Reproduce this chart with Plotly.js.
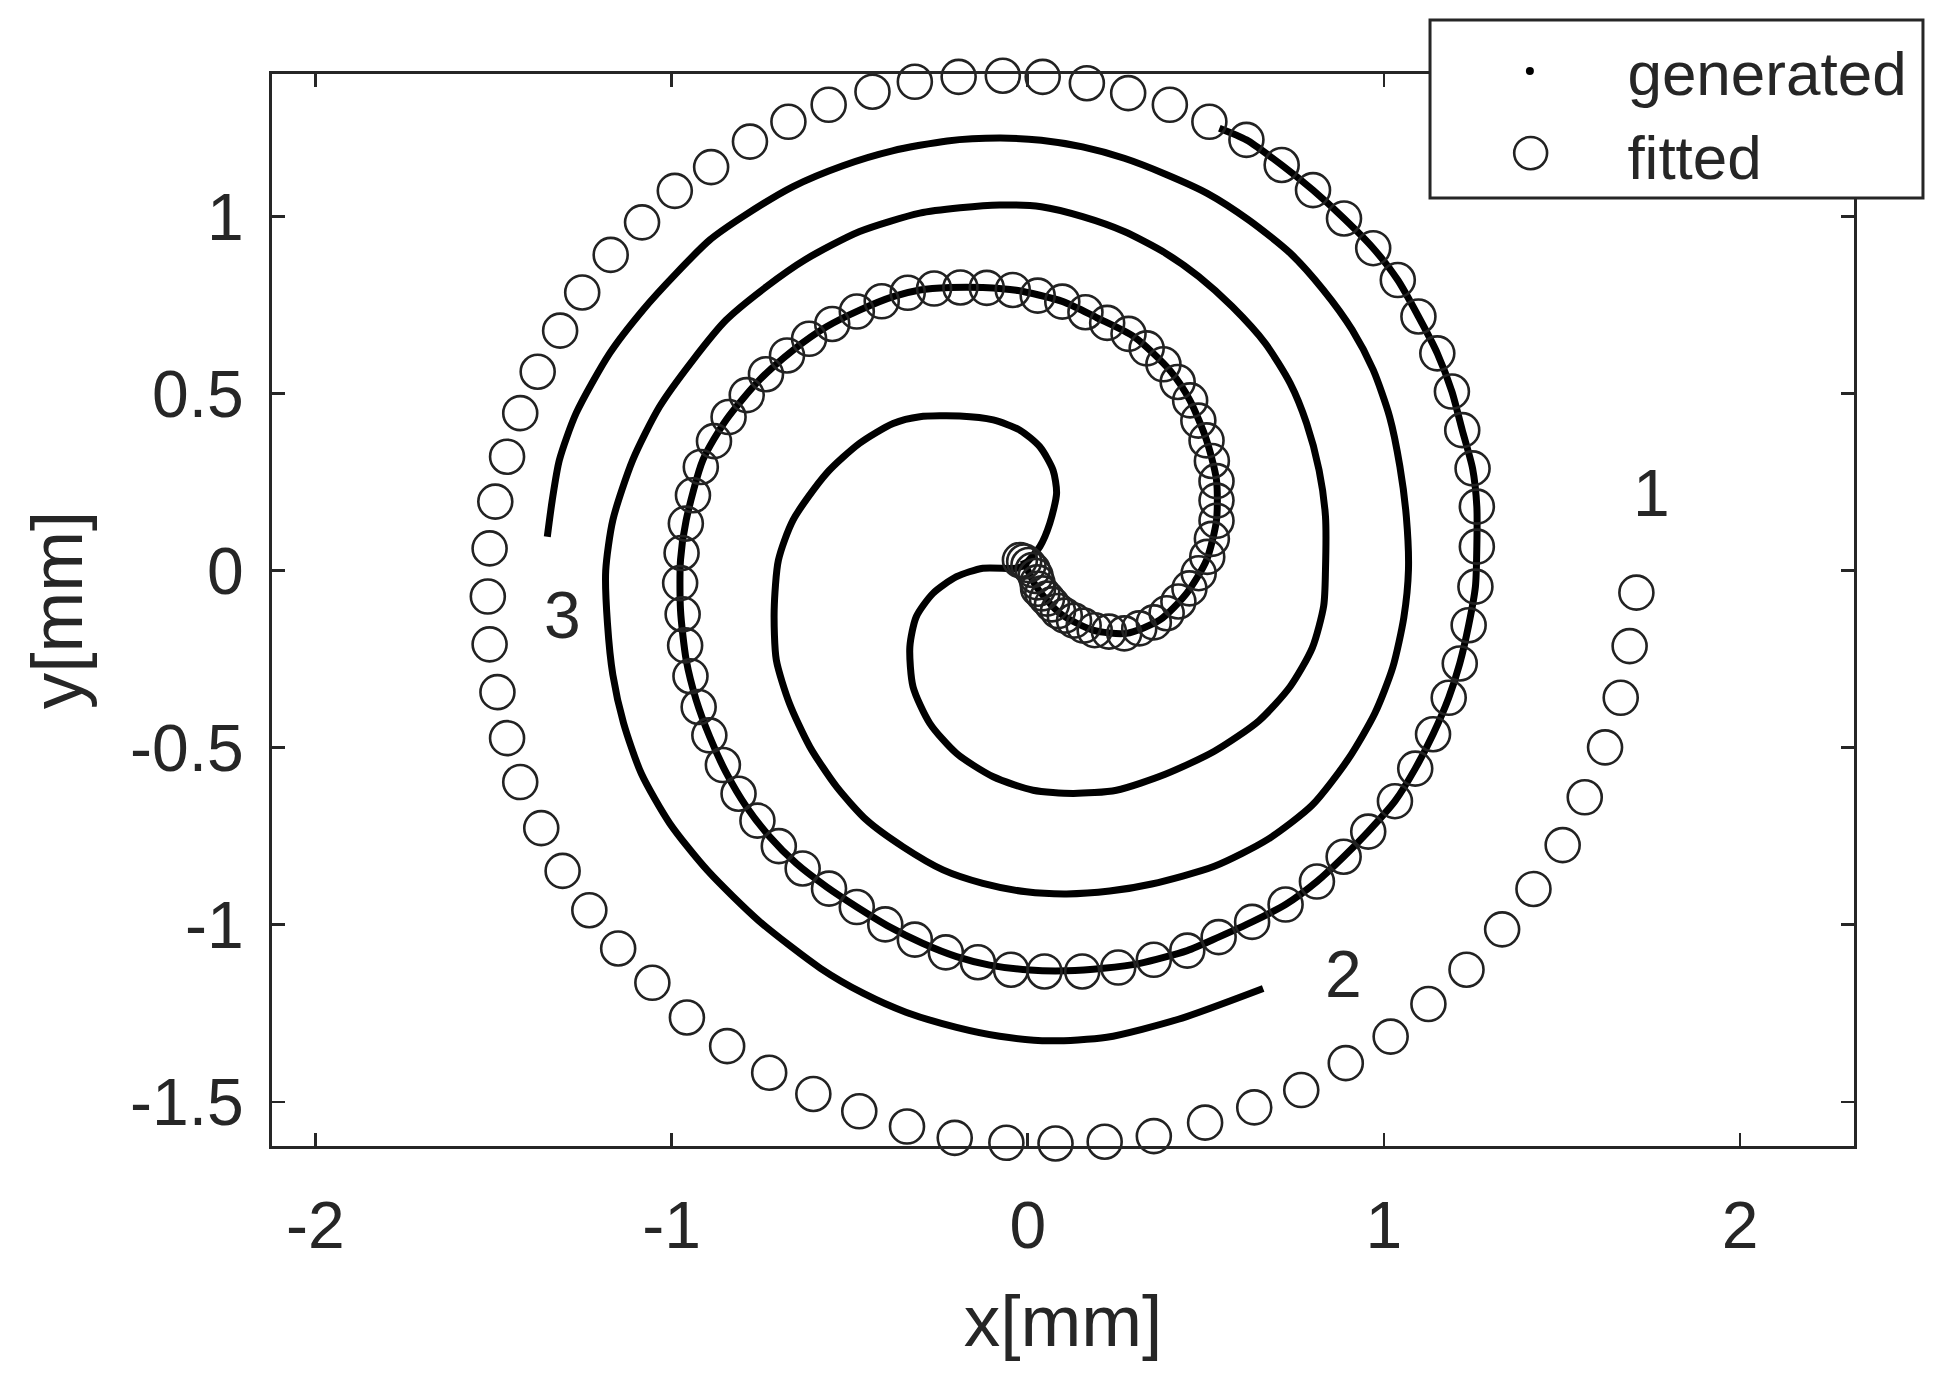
<!DOCTYPE html>
<html>
<head>
<meta charset="utf-8">
<script src="https://cdn.plot.ly/plotly-3.0.1.min.js"></script>
<style>
  html, body { margin: 0; padding: 0; background: #ffffff; }
  #chart { width: 1942px; height: 1390px; }
</style>
</head>
<body>
<div id="chart"></div>
<script>
// ---------------- data ----------------
// generated spiral arm 1 (from centre outwards)
const arm1X = [-0.013, 0.024, 0.090, 0.183, 0.277, 0.371, 0.446, 0.502, 0.530, 0.530, 0.502, 0.455, 0.400, 0.300, 0.193, 0.099, -0.032, -0.126, -0.219, -0.303, -0.378, -0.472, -0.565, -0.659, -0.753, -0.847, -0.912, -0.959, -0.975, -0.975, -0.959, -0.931, -0.893, -0.846, -0.790, -0.725, -0.650, -0.565, -0.481, -0.388, -0.294, -0.200, -0.107, 0.006, 0.109, 0.212, 0.315, 0.448, 0.536, 0.630, 0.724, 0.812, 0.887, 0.956, 1.031, 1.088, 1.138, 1.182, 1.213, 1.238, 1.257, 1.261, 1.261, 1.249, 1.220, 1.191, 1.150, 1.097, 1.039, 0.970, 0.888, 0.801, 0.713, 0.614, 0.538];
const arm1Y = [0.030, -0.045, -0.120, -0.168, -0.177, -0.139, -0.064, 0.030, 0.143, 0.256, 0.369, 0.482, 0.565, 0.660, 0.715, 0.760, 0.792, 0.800, 0.800, 0.793, 0.774, 0.736, 0.689, 0.623, 0.539, 0.426, 0.313, 0.143, 0.030, -0.111, -0.252, -0.365, -0.469, -0.572, -0.667, -0.751, -0.827, -0.893, -0.949, -1.006, -1.053, -1.090, -1.114, -1.128, -1.130, -1.123, -1.109, -1.073, -1.035, -0.992, -0.943, -0.878, -0.808, -0.737, -0.651, -0.559, -0.462, -0.359, -0.262, -0.154, -0.045, 0.068, 0.181, 0.289, 0.397, 0.506, 0.614, 0.718, 0.821, 0.911, 0.995, 1.075, 1.146, 1.217, 1.250];

// generated spiral arm 2 (from centre outwards, ends near label "2")
const arm2X = [-0.010, -0.032, -0.126, -0.200, -0.266, -0.313, -0.331, -0.322, -0.275, -0.200, -0.097, 0.015, 0.127, 0.249, 0.386, 0.524, 0.649, 0.737, 0.799, 0.831, 0.836, 0.836, 0.818, 0.783, 0.737, 0.667, 0.574, 0.480, 0.387, 0.271, 0.154, 0.038, -0.079, -0.190, -0.303, -0.472, -0.624, -0.734, -0.847, -0.940, -1.034, -1.109, -1.165, -1.185, -1.180, -1.165, -1.135, -1.085, -1.005, -0.900, -0.755, -0.582, -0.461, -0.342, -0.200, -0.079, 0.062, 0.222, 0.423, 0.661];
const arm2Y = [0.015, 0.007, 0.007, -0.017, -0.064, -0.130, -0.215, -0.328, -0.431, -0.516, -0.582, -0.620, -0.629, -0.620, -0.575, -0.510, -0.424, -0.327, -0.218, -0.099, 0.002, 0.153, 0.284, 0.416, 0.529, 0.642, 0.746, 0.831, 0.897, 0.958, 1.000, 1.028, 1.033, 1.025, 1.010, 0.958, 0.879, 0.802, 0.708, 0.595, 0.463, 0.313, 0.143, 0.000, -0.150, -0.294, -0.430, -0.573, -0.714, -0.846, -0.989, -1.123, -1.194, -1.247, -1.290, -1.315, -1.328, -1.318, -1.267, -1.180];

// generated spiral arm 3 (from centre outwards, ends near label "3")
const arm3X = [-0.010, 0.034, 0.062, 0.081, 0.071, 0.034, -0.022, -0.097, -0.191, -0.303, -0.378, -0.472, -0.565, -0.659, -0.700, -0.712, -0.706, -0.669, -0.612, -0.537, -0.453, -0.350, -0.238, -0.126, -0.004, 0.109, 0.230, 0.348, 0.524, 0.674, 0.799, 0.900, 0.975, 1.025, 1.056, 1.069, 1.063, 1.045, 1.016, 0.970, 0.911, 0.830, 0.737, 0.620, 0.504, 0.387, 0.271, 0.154, 0.038, -0.079, -0.226, -0.380, -0.519, -0.659, -0.800, -0.893, -0.987, -1.081, -1.174, -1.268, -1.315, -1.335, -1.349];
const arm3Y = [0.015, 0.068, 0.134, 0.219, 0.284, 0.350, 0.397, 0.426, 0.437, 0.435, 0.416, 0.360, 0.275, 0.143, 0.030, -0.111, -0.252, -0.375, -0.497, -0.610, -0.704, -0.780, -0.845, -0.883, -0.907, -0.913, -0.905, -0.885, -0.835, -0.759, -0.662, -0.532, -0.402, -0.273, -0.132, 0.002, 0.153, 0.294, 0.435, 0.567, 0.680, 0.793, 0.897, 0.991, 1.066, 1.120, 1.165, 1.197, 1.216, 1.222, 1.214, 1.186, 1.144, 1.085, 1.000, 0.934, 0.840, 0.736, 0.614, 0.445, 0.313, 0.200, 0.096];

// fitted points (open circles), from centre outwards
const fitX = [-0.022, -0.010, 0.002, 0.014, 0.022, 0.027, 0.029, 0.041, 0.054, 0.068, 0.085, 0.104, 0.130, 0.157, 0.188, 0.228, 0.271, 0.313, 0.354, 0.390, 0.423, 0.454, 0.480, 0.504, 0.517, 0.530, 0.530, 0.530, 0.517, 0.502, 0.479, 0.456, 0.421, 0.381, 0.334, 0.283, 0.223, 0.162, 0.097, 0.028, -0.042, -0.115, -0.189, -0.263, -0.337, -0.410, -0.480, -0.549, -0.614, -0.676, -0.735, -0.789, -0.840, -0.881, -0.918, -0.940, -0.960, -0.972, -0.976, -0.969, -0.962, -0.947, -0.924, -0.894, -0.856, -0.812, -0.759, -0.699, -0.632, -0.558, -0.480, -0.400, -0.317, -0.230, -0.140, -0.047, 0.047, 0.153, 0.254, 0.354, 0.448, 0.536, 0.630, 0.724, 0.812, 0.887, 0.956, 1.031, 1.088, 1.138, 1.182, 1.213, 1.238, 1.257, 1.261, 1.261, 1.249, 1.220, 1.191, 1.150, 1.097, 1.039, 0.970, 0.888, 0.801, 0.713, 0.614, 0.510, 0.399, 0.282, 0.166, 0.042, -0.070, -0.194, -0.317, -0.436, -0.559, -0.672, -0.780, -0.889, -0.991, -1.083, -1.171, -1.251, -1.313, -1.376, -1.425, -1.462, -1.495, -1.511, -1.516, -1.511, -1.489, -1.462, -1.425, -1.366, -1.306, -1.231, -1.150, -1.054, -0.957, -0.844, -0.726, -0.602, -0.473, -0.339, -0.205, -0.060, 0.078, 0.216, 0.354, 0.498, 0.636, 0.768, 0.893, 1.019, 1.125, 1.232, 1.332, 1.420, 1.502, 1.564, 1.621, 1.665, 1.690, 1.709];
const fitY = [0.030, 0.026, 0.016, 0.002, -0.015, -0.033, -0.051, -0.064, -0.079, -0.095, -0.114, -0.127, -0.141, -0.155, -0.168, -0.172, -0.177, -0.163, -0.146, -0.120, -0.087, -0.050, -0.007, 0.039, 0.090, 0.141, 0.198, 0.253, 0.310, 0.368, 0.424, 0.481, 0.533, 0.583, 0.628, 0.669, 0.700, 0.730, 0.760, 0.777, 0.793, 0.799, 0.800, 0.797, 0.785, 0.761, 0.732, 0.697, 0.655, 0.608, 0.555, 0.496, 0.434, 0.366, 0.293, 0.213, 0.133, 0.050, -0.035, -0.123, -0.211, -0.298, -0.385, -0.465, -0.549, -0.630, -0.706, -0.778, -0.841, -0.898, -0.950, -0.999, -1.042, -1.078, -1.106, -1.127, -1.132, -1.132, -1.121, -1.099, -1.073, -1.035, -0.992, -0.943, -0.878, -0.808, -0.737, -0.651, -0.559, -0.462, -0.359, -0.262, -0.154, -0.045, 0.068, 0.181, 0.289, 0.397, 0.506, 0.614, 0.718, 0.821, 0.911, 0.995, 1.075, 1.146, 1.217, 1.268, 1.316, 1.349, 1.377, 1.395, 1.398, 1.395, 1.381, 1.353, 1.316, 1.268, 1.212, 1.140, 1.073, 0.984, 0.892, 0.786, 0.678, 0.562, 0.445, 0.322, 0.195, 0.063, -0.073, -0.208, -0.343, -0.473, -0.597, -0.727, -0.848, -0.959, -1.067, -1.164, -1.262, -1.343, -1.418, -1.478, -1.527, -1.570, -1.602, -1.616, -1.618, -1.613, -1.597, -1.559, -1.516, -1.467, -1.391, -1.316, -1.224, -1.127, -1.013, -0.899, -0.775, -0.640, -0.499, -0.359, -0.213, -0.062];

// arm labels
const armLabels = ['1', '2', '3'];
const armLabelX = [1.750, 0.887, -1.306];
const armLabelY = [0.220, -1.140, -0.125];

// ticks
const xTickVals = [-2, -1, 0, 1, 2];
const xTickText = ['-2', '-1', '0', '1', '2'];
const yTickVals = [-1.5, -1, -0.5, 0, 0.5, 1];
const yTickText = ['-1.5', '-1', '-0.5', '0', '0.5', '1'];

const seriesNames = ['generated', 'fitted'];
const axisTitles = ['x[mm]', 'y[mm]'];

// ---------------- styling ----------------
const FONT = 'Liberation Sans, Arial, Helvetica, sans-serif';
const INK = '#262626';
const CIRCLE = '#222222';

const lineStyle = {color: '#000000', width: 7, shape: 'spline', smoothing: 0.7};

const traces = [
  {x: arm1X, y: arm1Y, type: 'scatter', mode: 'lines', line: lineStyle, showlegend: false, hoverinfo: 'skip'},
  {x: arm2X, y: arm2Y, type: 'scatter', mode: 'lines', line: lineStyle, showlegend: false, hoverinfo: 'skip'},
  {x: arm3X, y: arm3Y, type: 'scatter', mode: 'lines', line: lineStyle, showlegend: false, hoverinfo: 'skip'},
  {x: fitX, y: fitY, type: 'scatter', mode: 'markers', name: seriesNames[1], cliponaxis: false,
   showlegend: false,
   marker: {symbol: 'circle-open', size: 34, color: CIRCLE, line: {width: 2.6, color: CIRCLE}}},
  // legend entries (the large legend circle is drawn as a shape, see below)
  {x: [null], y: [null], type: 'scatter', mode: 'markers', name: seriesNames[0],
   marker: {symbol: 'circle', size: 8, color: '#000000'}},
  {x: [null], y: [null], type: 'scatter', mode: 'markers', name: seriesNames[1],
   marker: {symbol: 'circle-open', size: 16, color: 'rgba(0,0,0,0)', line: {width: 0, color: 'rgba(0,0,0,0)'}}}
];

const annotations = armLabels.map((t, i) => ({
  x: armLabelX[i], y: armLabelY[i], xref: 'x', yref: 'y', text: t, showarrow: false,
  font: {family: FONT, size: 66, color: INK}, xanchor: 'center', yanchor: 'middle'
}));

// legend frame and the big legend circle (paper coordinates)
const shapes = [
  {type: 'rect', xref: 'paper', yref: 'paper', x0: 0.7320, x1: 1.0436, y0: 0.8843, y1: 1.0504,
   fillcolor: '#ffffff', line: {color: INK, width: 3}, layer: 'above'},
  {type: 'circle', xref: 'paper', yref: 'paper', x0: 0.7852, x1: 0.8060, y0: 0.9112, y1: 0.9413,
   fillcolor: 'rgba(0,0,0,0)', line: {color: CIRCLE, width: 2.6}, layer: 'above'}
];

const axisCommon = {
  showline: true, linecolor: INK, linewidth: 3, mirror: 'ticks',
  ticks: 'inside', ticklen: 13, tickwidth: 2.5, tickcolor: INK,
  showgrid: false, zeroline: false, tickmode: 'array',
  tickfont: {family: FONT, size: 66, color: INK}
};

const layout = {
  width: 1942, height: 1390,
  margin: {l: 272, r: 88, t: 74, b: 244, pad: 0},
  paper_bgcolor: '#ffffff', plot_bgcolor: '#ffffff',
  font: {family: FONT, color: INK},
  xaxis: Object.assign({}, axisCommon, {
    range: [-2.122, 2.32], tickvals: xTickVals, ticktext: xTickText,
    ticklabelstandoff: 20,
    title: {text: axisTitles[0], font: {family: FONT, size: 73, color: INK}, standoff: 34}
  }),
  yaxis: Object.assign({}, axisCommon, {
    range: [-1.625, 1.403], tickvals: yTickVals, ticktext: yTickText,
    ticklabelstandoff: 12,
    title: {text: axisTitles[1], font: {family: FONT, size: 73, color: INK}, standoff: 24}
  }),
  showlegend: true,
  legend: {
    x: 0.7335, y: 1.0465, xanchor: 'left', yanchor: 'top',
    bgcolor: 'rgba(0,0,0,0)', borderwidth: 0,
    font: {family: FONT, size: 62, color: INK},
    itemwidth: 185, tracegroupgap: 0, traceorder: 'normal'
  },
  shapes: shapes,
  annotations: annotations
};

Plotly.newPlot('chart', traces, layout, {displayModeBar: false, staticPlot: true});
</script>
</body>
</html>
